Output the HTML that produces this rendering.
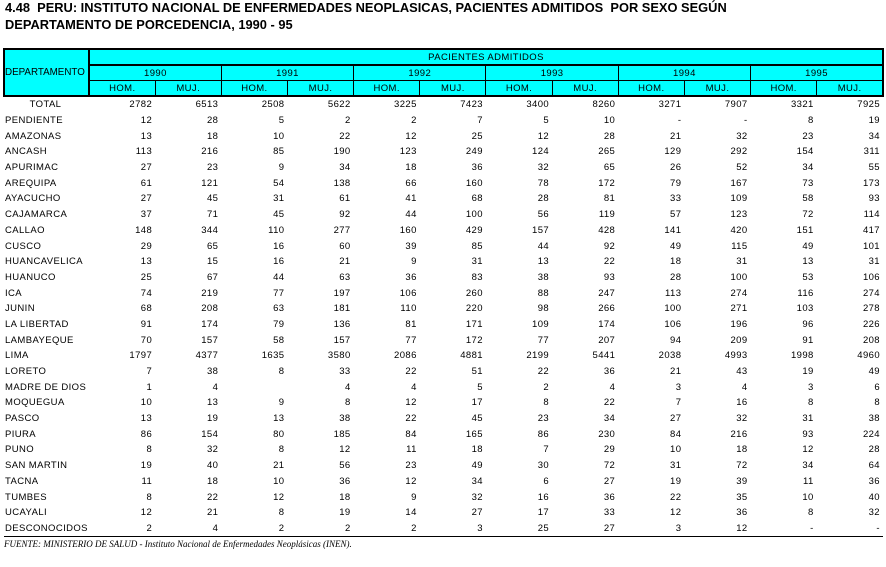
<!DOCTYPE html>
<html><head><meta charset="utf-8"><style>
body{margin:0;width:886px;height:567px;background:#fff;position:relative;font-family:"Liberation Sans",sans-serif;overflow:hidden}
.t{position:absolute;left:5px;font-weight:bold;font-size:12.85px;line-height:16px}
table{position:absolute;left:3px;top:48px;width:881px;border-collapse:collapse;table-layout:fixed;font-size:9.5px;letter-spacing:0.4px}
th{background:#00ffff;font-weight:normal;border:1px solid #000;height:14px;line-height:13px;padding:0;text-align:center}
td{height:15.7px;padding:0 3px 0 0;text-align:right;white-space:nowrap}
td:first-child{text-align:left;padding-left:1px}
tr.last td{border-bottom:1px solid #000}
.src{position:absolute;left:4px;top:539px;font-family:"Liberation Serif",serif;font-style:italic;font-size:9px}
</style></head><body>
<div class="t" style="top:0px">4.48&nbsp; PERU: INSTITUTO NACIONAL DE ENFERMEDADES NEOPLASICAS, PACIENTES ADMITIDOS&nbsp; POR SEXO SEGÚN</div>
<div class="t" style="top:17px">DEPARTAMENTO DE PORCEDENCIA, 1990 - 95</div>
<table>
<colgroup><col style="width:85px"><col span="12"></colgroup>
<tr><th rowspan="3" style="border-width:2px;letter-spacing:0;font-size:9.8px;text-align:left;padding-left:0;white-space:nowrap">DEPARTAMENTO</th><th colspan="12" style="border-top-width:2px;border-bottom-width:2px;border-right-width:2px">PACIENTES ADMITIDOS</th></tr>
<tr><th colspan="2">1990</th><th colspan="2">1991</th><th colspan="2">1992</th><th colspan="2">1993</th><th colspan="2">1994</th><th colspan="2" style="border-right-width:2px">1995</th></tr>
<tr style="border-bottom:2px solid #000"><th>HOM.</th><th>MUJ.</th><th>HOM.</th><th>MUJ.</th><th>HOM.</th><th>MUJ.</th><th>HOM.</th><th>MUJ.</th><th>HOM.</th><th>MUJ.</th><th>HOM.</th><th style="border-right-width:2px">MUJ.</th></tr>
<tr><td style="text-align:center">TOTAL</td><td>2782</td><td>6513</td><td>2508</td><td>5622</td><td>3225</td><td>7423</td><td>3400</td><td>8260</td><td>3271</td><td>7907</td><td>3321</td><td>7925</td></tr>
<tr><td>PENDIENTE</td><td>12</td><td>28</td><td>5</td><td>2</td><td>2</td><td>7</td><td>5</td><td>10</td><td>-</td><td>-</td><td>8</td><td>19</td></tr>
<tr><td>AMAZONAS</td><td>13</td><td>18</td><td>10</td><td>22</td><td>12</td><td>25</td><td>12</td><td>28</td><td>21</td><td>32</td><td>23</td><td>34</td></tr>
<tr><td>ANCASH</td><td>113</td><td>216</td><td>85</td><td>190</td><td>123</td><td>249</td><td>124</td><td>265</td><td>129</td><td>292</td><td>154</td><td>311</td></tr>
<tr><td>APURIMAC</td><td>27</td><td>23</td><td>9</td><td>34</td><td>18</td><td>36</td><td>32</td><td>65</td><td>26</td><td>52</td><td>34</td><td>55</td></tr>
<tr><td>AREQUIPA</td><td>61</td><td>121</td><td>54</td><td>138</td><td>66</td><td>160</td><td>78</td><td>172</td><td>79</td><td>167</td><td>73</td><td>173</td></tr>
<tr><td>AYACUCHO</td><td>27</td><td>45</td><td>31</td><td>61</td><td>41</td><td>68</td><td>28</td><td>81</td><td>33</td><td>109</td><td>58</td><td>93</td></tr>
<tr><td>CAJAMARCA</td><td>37</td><td>71</td><td>45</td><td>92</td><td>44</td><td>100</td><td>56</td><td>119</td><td>57</td><td>123</td><td>72</td><td>114</td></tr>
<tr><td>CALLAO</td><td>148</td><td>344</td><td>110</td><td>277</td><td>160</td><td>429</td><td>157</td><td>428</td><td>141</td><td>420</td><td>151</td><td>417</td></tr>
<tr><td>CUSCO</td><td>29</td><td>65</td><td>16</td><td>60</td><td>39</td><td>85</td><td>44</td><td>92</td><td>49</td><td>115</td><td>49</td><td>101</td></tr>
<tr><td>HUANCAVELICA</td><td>13</td><td>15</td><td>16</td><td>21</td><td>9</td><td>31</td><td>13</td><td>22</td><td>18</td><td>31</td><td>13</td><td>31</td></tr>
<tr><td>HUANUCO</td><td>25</td><td>67</td><td>44</td><td>63</td><td>36</td><td>83</td><td>38</td><td>93</td><td>28</td><td>100</td><td>53</td><td>106</td></tr>
<tr><td>ICA</td><td>74</td><td>219</td><td>77</td><td>197</td><td>106</td><td>260</td><td>88</td><td>247</td><td>113</td><td>274</td><td>116</td><td>274</td></tr>
<tr><td>JUNIN</td><td>68</td><td>208</td><td>63</td><td>181</td><td>110</td><td>220</td><td>98</td><td>266</td><td>100</td><td>271</td><td>103</td><td>278</td></tr>
<tr><td>LA LIBERTAD</td><td>91</td><td>174</td><td>79</td><td>136</td><td>81</td><td>171</td><td>109</td><td>174</td><td>106</td><td>196</td><td>96</td><td>226</td></tr>
<tr><td>LAMBAYEQUE</td><td>70</td><td>157</td><td>58</td><td>157</td><td>77</td><td>172</td><td>77</td><td>207</td><td>94</td><td>209</td><td>91</td><td>208</td></tr>
<tr><td>LIMA</td><td>1797</td><td>4377</td><td>1635</td><td>3580</td><td>2086</td><td>4881</td><td>2199</td><td>5441</td><td>2038</td><td>4993</td><td>1998</td><td>4960</td></tr>
<tr><td>LORETO</td><td>7</td><td>38</td><td>8</td><td>33</td><td>22</td><td>51</td><td>22</td><td>36</td><td>21</td><td>43</td><td>19</td><td>49</td></tr>
<tr><td>MADRE DE DIOS</td><td>1</td><td>4</td><td></td><td>4</td><td>4</td><td>5</td><td>2</td><td>4</td><td>3</td><td>4</td><td>3</td><td>6</td></tr>
<tr><td>MOQUEGUA</td><td>10</td><td>13</td><td>9</td><td>8</td><td>12</td><td>17</td><td>8</td><td>22</td><td>7</td><td>16</td><td>8</td><td>8</td></tr>
<tr><td>PASCO</td><td>13</td><td>19</td><td>13</td><td>38</td><td>22</td><td>45</td><td>23</td><td>34</td><td>27</td><td>32</td><td>31</td><td>38</td></tr>
<tr><td>PIURA</td><td>86</td><td>154</td><td>80</td><td>185</td><td>84</td><td>165</td><td>86</td><td>230</td><td>84</td><td>216</td><td>93</td><td>224</td></tr>
<tr><td>PUNO</td><td>8</td><td>32</td><td>8</td><td>12</td><td>11</td><td>18</td><td>7</td><td>29</td><td>10</td><td>18</td><td>12</td><td>28</td></tr>
<tr><td>SAN MARTIN</td><td>19</td><td>40</td><td>21</td><td>56</td><td>23</td><td>49</td><td>30</td><td>72</td><td>31</td><td>72</td><td>34</td><td>64</td></tr>
<tr><td>TACNA</td><td>11</td><td>18</td><td>10</td><td>36</td><td>12</td><td>34</td><td>6</td><td>27</td><td>19</td><td>39</td><td>11</td><td>36</td></tr>
<tr><td>TUMBES</td><td>8</td><td>22</td><td>12</td><td>18</td><td>9</td><td>32</td><td>16</td><td>36</td><td>22</td><td>35</td><td>10</td><td>40</td></tr>
<tr><td>UCAYALI</td><td>12</td><td>21</td><td>8</td><td>19</td><td>14</td><td>27</td><td>17</td><td>33</td><td>12</td><td>36</td><td>8</td><td>32</td></tr>
<tr class="last"><td>DESCONOCIDOS</td><td>2</td><td>4</td><td>2</td><td>2</td><td>2</td><td>3</td><td>25</td><td>27</td><td>3</td><td>12</td><td>-</td><td>-</td></tr>
</table>
<div class="src">FUENTE: MINISTERIO DE SALUD - Instituto Nacional de Enfermedades Neoplásicas (INEN).</div>
</body></html>
